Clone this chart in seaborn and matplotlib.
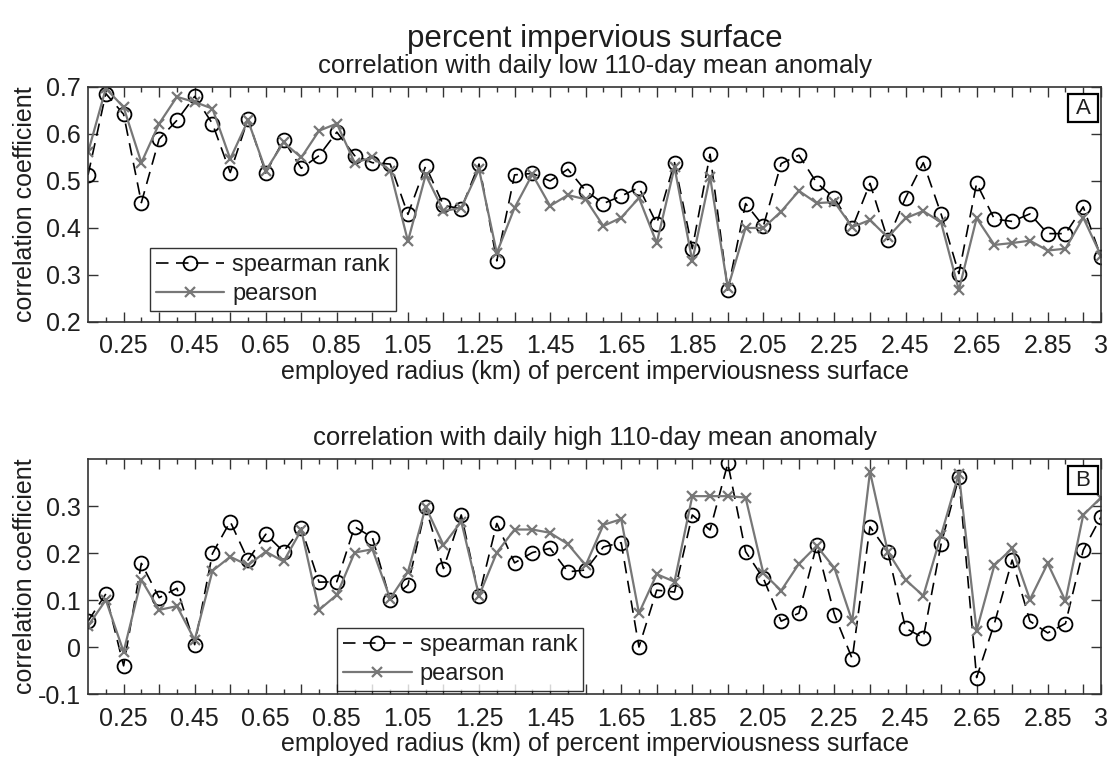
import numpy as np
import pandas as pd
import matplotlib
matplotlib.use("Agg")
import matplotlib.pyplot as plt
import seaborn as sns
from matplotlib.patches import Rectangle
from matplotlib.ticker import FixedLocator, FixedFormatter

# radius of the impervious-surface buffer, km
radius = [round(0.15 + 0.05 * i, 2) for i in range(58)]

# correlation with daily low 110-day mean anomaly
low_spearman = [0.513, 0.686, 0.642, 0.454, 0.589, 0.629, 0.680, 0.622, 0.518, 0.632,
                0.517, 0.587, 0.527, 0.554, 0.604, 0.554, 0.539, 0.536, 0.429, 0.532,
                0.448, 0.441, 0.536, 0.330, 0.513, 0.516, 0.500, 0.525, 0.479, 0.452,
                0.468, 0.486, 0.409, 0.539, 0.356, 0.557, 0.268, 0.452, 0.404, 0.537,
                0.555, 0.496, 0.464, 0.400, 0.495, 0.375, 0.464, 0.539, 0.430, 0.303,
                0.495, 0.419, 0.414, 0.430, 0.388, 0.388, 0.445, 0.338]
low_pearson = [0.561, 0.697, 0.657, 0.539, 0.622, 0.679, 0.668, 0.654, 0.547, 0.629,
               0.522, 0.582, 0.550, 0.607, 0.622, 0.539, 0.550, 0.522, 0.372, 0.513,
               0.436, 0.443, 0.525, 0.347, 0.443, 0.514, 0.447, 0.470, 0.461, 0.404,
               0.422, 0.464, 0.368, 0.529, 0.330, 0.509, 0.272, 0.400, 0.400, 0.435,
               0.479, 0.453, 0.455, 0.402, 0.417, 0.380, 0.421, 0.436, 0.412, 0.268,
               0.421, 0.364, 0.368, 0.373, 0.352, 0.356, 0.422, 0.341]

# correlation with daily high 110-day mean anomaly
high_spearman = [0.055, 0.113, -0.040, 0.178, 0.105, 0.125, 0.005, 0.199, 0.267, 0.185,
                 0.240, 0.203, 0.253, 0.138, 0.139, 0.256, 0.233, 0.100, 0.132, 0.297,
                 0.167, 0.281, 0.109, 0.263, 0.179, 0.201, 0.210, 0.160, 0.164, 0.213,
                 0.222, 0.000, 0.121, 0.117, 0.281, 0.249, 0.391, 0.203, 0.146, 0.055,
                 0.072, 0.217, 0.069, -0.025, 0.256, 0.203, 0.040, 0.020, 0.219, 0.361,
                 -0.065, 0.050, 0.185, 0.055, 0.030, 0.050, 0.206, 0.277]
high_pearson = [0.045, 0.100, -0.010, 0.143, 0.079, 0.087, 0.015, 0.162, 0.192, 0.174,
                0.203, 0.182, 0.249, 0.079, 0.111, 0.201, 0.208, 0.103, 0.160, 0.298,
                0.217, 0.267, 0.109, 0.201, 0.250, 0.250, 0.243, 0.219, 0.174, 0.260,
                0.272, 0.072, 0.155, 0.139, 0.321, 0.321, 0.321, 0.318, 0.157, 0.120,
                0.177, 0.215, 0.168, 0.055, 0.373, 0.203, 0.143, 0.109, 0.238, 0.369,
                0.035, 0.174, 0.210, 0.101, 0.178, 0.098, 0.281, 0.318]

tick_labels = ["0.25", "0.45", "0.65", "0.85", "1.05", "1.25", "1.45", "1.65",
               "1.85", "2.05", "2.25", "2.45", "2.65", "2.85", "3"]
tick_values = [0.25, 0.45, 0.65, 0.85, 1.05, 1.25, 1.45, 1.65,
               1.85, 2.05, 2.25, 2.45, 2.65, 2.85, 3.0]

sns.set_style("white")
plt.rcParams["font.family"] = ["Liberation Sans", "DejaVu Sans"]
plt.rcParams["lines.scale_dashes"] = True

TEXT = "#1e1e1e"
GRAY = "#777777"
fs_tick = 18
fs_label = 18
fs_sub = 18.5
fs_title = 22.5
fs_legend = 17

AX_LEFT, AX_WIDTH = 0.0794, 0.9134
fig = plt.figure(figsize=(11.09, 7.63), dpi=100)
ax_low = fig.add_axes([AX_LEFT, 0.578, AX_WIDTH, 0.308])
ax_high = fig.add_axes([AX_LEFT, 0.0904, AX_WIDTH, 0.308])

fig.text(AX_LEFT + AX_WIDTH / 2, 0.938, "percent impervious surface",
         ha="center", va="baseline", fontsize=fs_title, color=TEXT)


def draw_panel(ax, spearman, pearson, title, ylim, yticks, tag, legend_anchor):
    df = pd.DataFrame({"radius": radius, "spearman": spearman, "pearson": pearson})
    sns.lineplot(data=df, x="radius", y="spearman", ax=ax, color="black",
                 linestyle=(0, (7.5, 4.5)), linewidth=1.2, marker="o", markersize=10,
                 markerfacecolor="none", markeredgecolor="black", markeredgewidth=1.3,
                 errorbar=None, sort=False, label="spearman rank", legend=False)
    sns.lineplot(data=df, x="radius", y="pearson", ax=ax, color=GRAY,
                 linestyle="-", linewidth=1.6, marker="x", markersize=7,
                 markeredgecolor=GRAY, markeredgewidth=1.6,
                 errorbar=None, sort=False, label="pearson", legend=False)

    ax.set_xlim(0.15, 3.0)
    ax.set_ylim(*ylim)

    # long ticks every 0.1 km, labels every 0.2 km, short ticks in between
    major = [round(0.25 + 0.1 * i, 2) for i in range(28)] + [3.0]
    labels = [tick_labels[tick_values.index(v)] if v in tick_values else "" for v in major]
    ax.xaxis.set_major_locator(FixedLocator(major))
    ax.xaxis.set_major_formatter(FixedFormatter(labels))
    ax.xaxis.set_minor_locator(FixedLocator([round(0.2 + 0.1 * i, 2) for i in range(28)]))
    ax.set_yticks(yticks)
    ax.set_yticklabels([("%g" % v) for v in yticks])

    ax.tick_params(axis="both", which="major", direction="in", length=7, width=1.0,
                   top=True, right=True, bottom=True, left=True,
                   labelsize=fs_tick, labelcolor=TEXT, color="#333333")
    ax.tick_params(axis="x", which="major", pad=9)
    ax.tick_params(axis="y", which="major", pad=5)
    ax.tick_params(axis="x", which="minor", direction="in", length=3.5, width=1.0,
                   top=True, bottom=True, color="#333333")
    for s in ax.spines.values():
        s.set_visible(True)
        s.set_color("#333333")
        s.set_linewidth(1.2)

    ax.set_xlabel("employed radius (km) of percent imperviousness surface",
                  fontsize=fs_label, color=TEXT, labelpad=1)
    ax.set_ylabel("correlation coefficient", fontsize=fs_label, color=TEXT)
    ax.yaxis.set_label_coords(-0.050, 0.5)
    ax.set_title(title, fontsize=fs_sub, color=TEXT, pad=10)

    # panel tag in a framed box at the upper right corner
    ax.add_patch(Rectangle((0.9674, 0.850), 0.0296, 0.121, transform=ax.transAxes,
                           facecolor="white", edgecolor="black", linewidth=1.6,
                           zorder=5))
    ax.text(0.9822, 0.907, tag, transform=ax.transAxes, ha="center", va="center",
            fontsize=16, color=TEXT, zorder=6)

    leg = ax.legend(loc="lower left", bbox_to_anchor=legend_anchor,
                    fontsize=fs_legend, frameon=True, fancybox=False,
                    edgecolor="black", handlelength=2.9, handletextpad=0.35,
                    labelspacing=0.3, borderpad=0.25, borderaxespad=0)
    leg.get_frame().set_linewidth(1.0)
    for t in leg.get_texts():
        t.set_color(TEXT)


draw_panel(ax_low, low_spearman, low_pearson,
           "correlation with daily low 110-day mean anomaly",
           (0.2, 0.7), [0.2, 0.3, 0.4, 0.5, 0.6, 0.7], "A", (0.061, 0.047))
draw_panel(ax_high, high_spearman, high_pearson,
           "correlation with daily high 110-day mean anomaly",
           (-0.1, 0.4), [-0.1, 0.0, 0.1, 0.2, 0.3], "B", (0.246, 0.012))

fig.savefig("out.png", dpi=100)
